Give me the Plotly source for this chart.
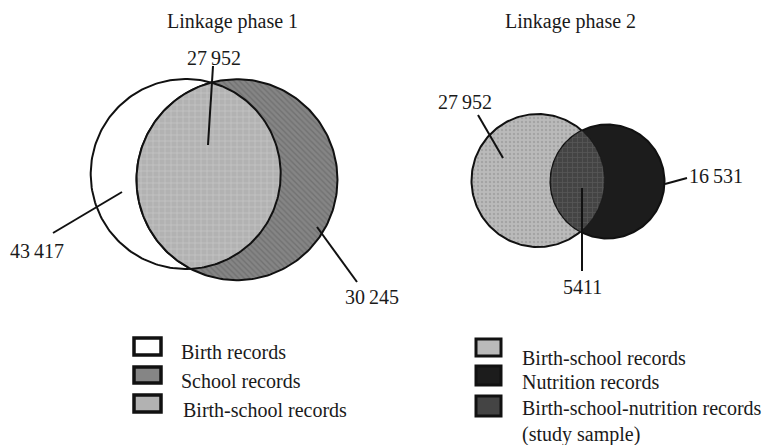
import numpy as np
import plotly.graph_objects as go

# ---- data ----
phase_titles = ["Linkage phase 1", "Linkage phase 2"]
phase1_sets = ["Birth records", "School records", "Birth-school records"]
phase1_counts = [43417, 30245, 27952]
phase2_sets = ["Birth-school records", "Nutrition records",
               "Birth-school-nutrition records<br>(study sample)"]
phase2_counts = [27952, 16531, 5411]


def fmt(n):
    return f"{n:,}".replace(",", "\u2009") if n >= 10000 else str(n)


FONT = dict(family="Liberation Serif", size=20, color="#1a1a1a")

# ---- layout geometry (pixel space) ----
W, H = 776, 445
C_BIRTH = (185.7, 174.0, 95.0)
C_SCHOOL = (237.0, 179.7, 100.5)
C_BS2 = (538.0, 180.5, 66.5)
C_NUT = (607.5, 181.5, 57.0)

COL_WHITE = "#ffffff"
COL_SCHOOL = "#858585"
COL_BS1 = "#b2b2b2"
COL_BS2 = "#bababa"
COL_NUT = "#1c1c1c"
COL_BSN = "#444444"

PAT_SCHOOL = dict(shape="\\", bgcolor=COL_SCHOOL, fgcolor="#5e5e5e", size=4, solidity=0.35)
PAT_BS1 = dict(shape="+", bgcolor=COL_BS1, fgcolor="#d6d6d6", size=6, solidity=0.25)
PAT_BS2 = dict(shape=".", bgcolor=COL_BS2, fgcolor="#8e8e8e", size=4, solidity=0.3)
PAT_BSN = dict(shape="+", bgcolor=COL_BSN, fgcolor="#6a6a6a", size=5, solidity=0.3)


def circle_xy(c, n=240):
    t = np.linspace(0, 2 * np.pi, n)
    return c[0] + c[2] * np.cos(t), c[1] + c[2] * np.sin(t)


def lens_xy(c1, c2, n=120):
    x1, y1, r1 = c1
    x2, y2, r2 = c2
    dx, dy = x2 - x1, y2 - y1
    d = np.hypot(dx, dy)
    phi = np.arctan2(dy, dx)
    a = (r1 ** 2 - r2 ** 2 + d ** 2) / (2 * d)
    al1 = np.arccos(np.clip(a / r1, -1, 1))
    al2 = np.arccos(np.clip((d - a) / r2, -1, 1))
    t1 = np.linspace(phi - al1, phi + al1, n)
    t2 = np.linspace(phi + np.pi - al2, phi + np.pi + al2, n)
    xs = np.concatenate([x1 + r1 * np.cos(t1), x2 + r2 * np.cos(t2)])
    ys = np.concatenate([y1 + r1 * np.sin(t1), y2 + r2 * np.sin(t2)])
    return np.append(xs, xs[0]), np.append(ys, ys[0])


fig = go.Figure()


def add_region(xy, color, pattern=None, lw=2):
    kw = dict(fillpattern=pattern) if pattern else {}
    fig.add_trace(go.Scatter(x=xy[0], y=xy[1], mode="lines", fill="toself",
                             fillcolor=color, line=dict(color="#111111", width=lw),
                             hoverinfo="skip", showlegend=False, **kw))


# phase 1
add_region(circle_xy(C_BIRTH), COL_WHITE)
add_region(circle_xy(C_SCHOOL), COL_SCHOOL, PAT_SCHOOL)
add_region(lens_xy(C_BIRTH, C_SCHOOL), COL_BS1, PAT_BS1)
# phase 2
add_region(circle_xy(C_BS2), COL_BS2, PAT_BS2)
add_region(circle_xy(C_NUT), COL_NUT)
add_region(lens_xy(C_BS2, C_NUT), COL_BSN, PAT_BSN, lw=0.5)


def leader(p0, p1):
    fig.add_trace(go.Scatter(x=[p0[0], p1[0]], y=[p0[1], p1[1]], mode="lines",
                             line=dict(color="#111111", width=2),
                             hoverinfo="skip", showlegend=False))


# leader lines + count labels
leader((213, 66), (208, 145))
leader((53, 233), (122, 192))
leader((317, 227), (357, 282))
leader((478, 115), (503, 158))
leader((665, 184), (687, 178))
leader((582, 188), (582, 271))

count_pos = [
    (phase1_counts[2], 214, 58),
    (phase1_counts[0], 37, 251),
    (phase1_counts[1], 372, 297),
    (phase2_counts[0], 465, 102),
    (phase2_counts[1], 716, 176),
    (phase2_counts[2], 582, 287),
]
anns = []
for v, x, y in count_pos:
    anns.append(dict(x=x, y=y, text=fmt(v), showarrow=False, xanchor="center",
                     yanchor="middle", font=FONT))

anns.append(dict(x=232, y=21, text=phase_titles[0], showarrow=False, font=FONT,
                 xanchor="center", yanchor="middle"))
anns.append(dict(x=570, y=21, text=phase_titles[1], showarrow=False, font=FONT,
                 xanchor="center", yanchor="middle"))

# legends
shapes = []
leg1_fill = [COL_WHITE, COL_SCHOOL, COL_BS1]
leg1_box_y = [(338, 355), (367, 383), (395, 412)]
leg1_text_y = [352, 381, 410]
for i, name in enumerate(phase1_sets):
    y0, y1 = leg1_box_y[i]
    shapes.append(dict(type="rect", x0=134, x1=161, y0=y0, y1=y1,
                       line=dict(color="#111111", width=3.5), fillcolor=leg1_fill[i]))
    anns.append(dict(x=179 if i < 2 else 181, y=leg1_text_y[i], text=name, showarrow=False,
                     xanchor="left", yanchor="middle", font=FONT))

leg2_fill = [COL_BS2, COL_NUT, COL_BSN]
leg2_box_y = [(339, 356), (366, 385), (396, 416)]
leg2_text_y = [358, 382, 421]
for i, name in enumerate(phase2_sets):
    y0, y1 = leg2_box_y[i]
    shapes.append(dict(type="rect", x0=476, x1=501, y0=y0, y1=y1,
                       line=dict(color="#111111", width=3), fillcolor=leg2_fill[i]))
    anns.append(dict(x=520, y=leg2_text_y[i], text=name, showarrow=False,
                     xanchor="left", yanchor="middle", align="left", font=FONT))

fig.update_layout(
    width=W, height=H, margin=dict(l=0, r=0, t=0, b=0),
    paper_bgcolor="white", plot_bgcolor="white",
    xaxis=dict(range=[0, W], visible=False, fixedrange=True),
    yaxis=dict(range=[H, 0], visible=False, fixedrange=True),
    annotations=anns, shapes=shapes,
)
fig.write_html("out.html", config={"displayModeBar": False},
               post_script="document.body.style.margin='0';document.body.style.overflow='hidden';")
